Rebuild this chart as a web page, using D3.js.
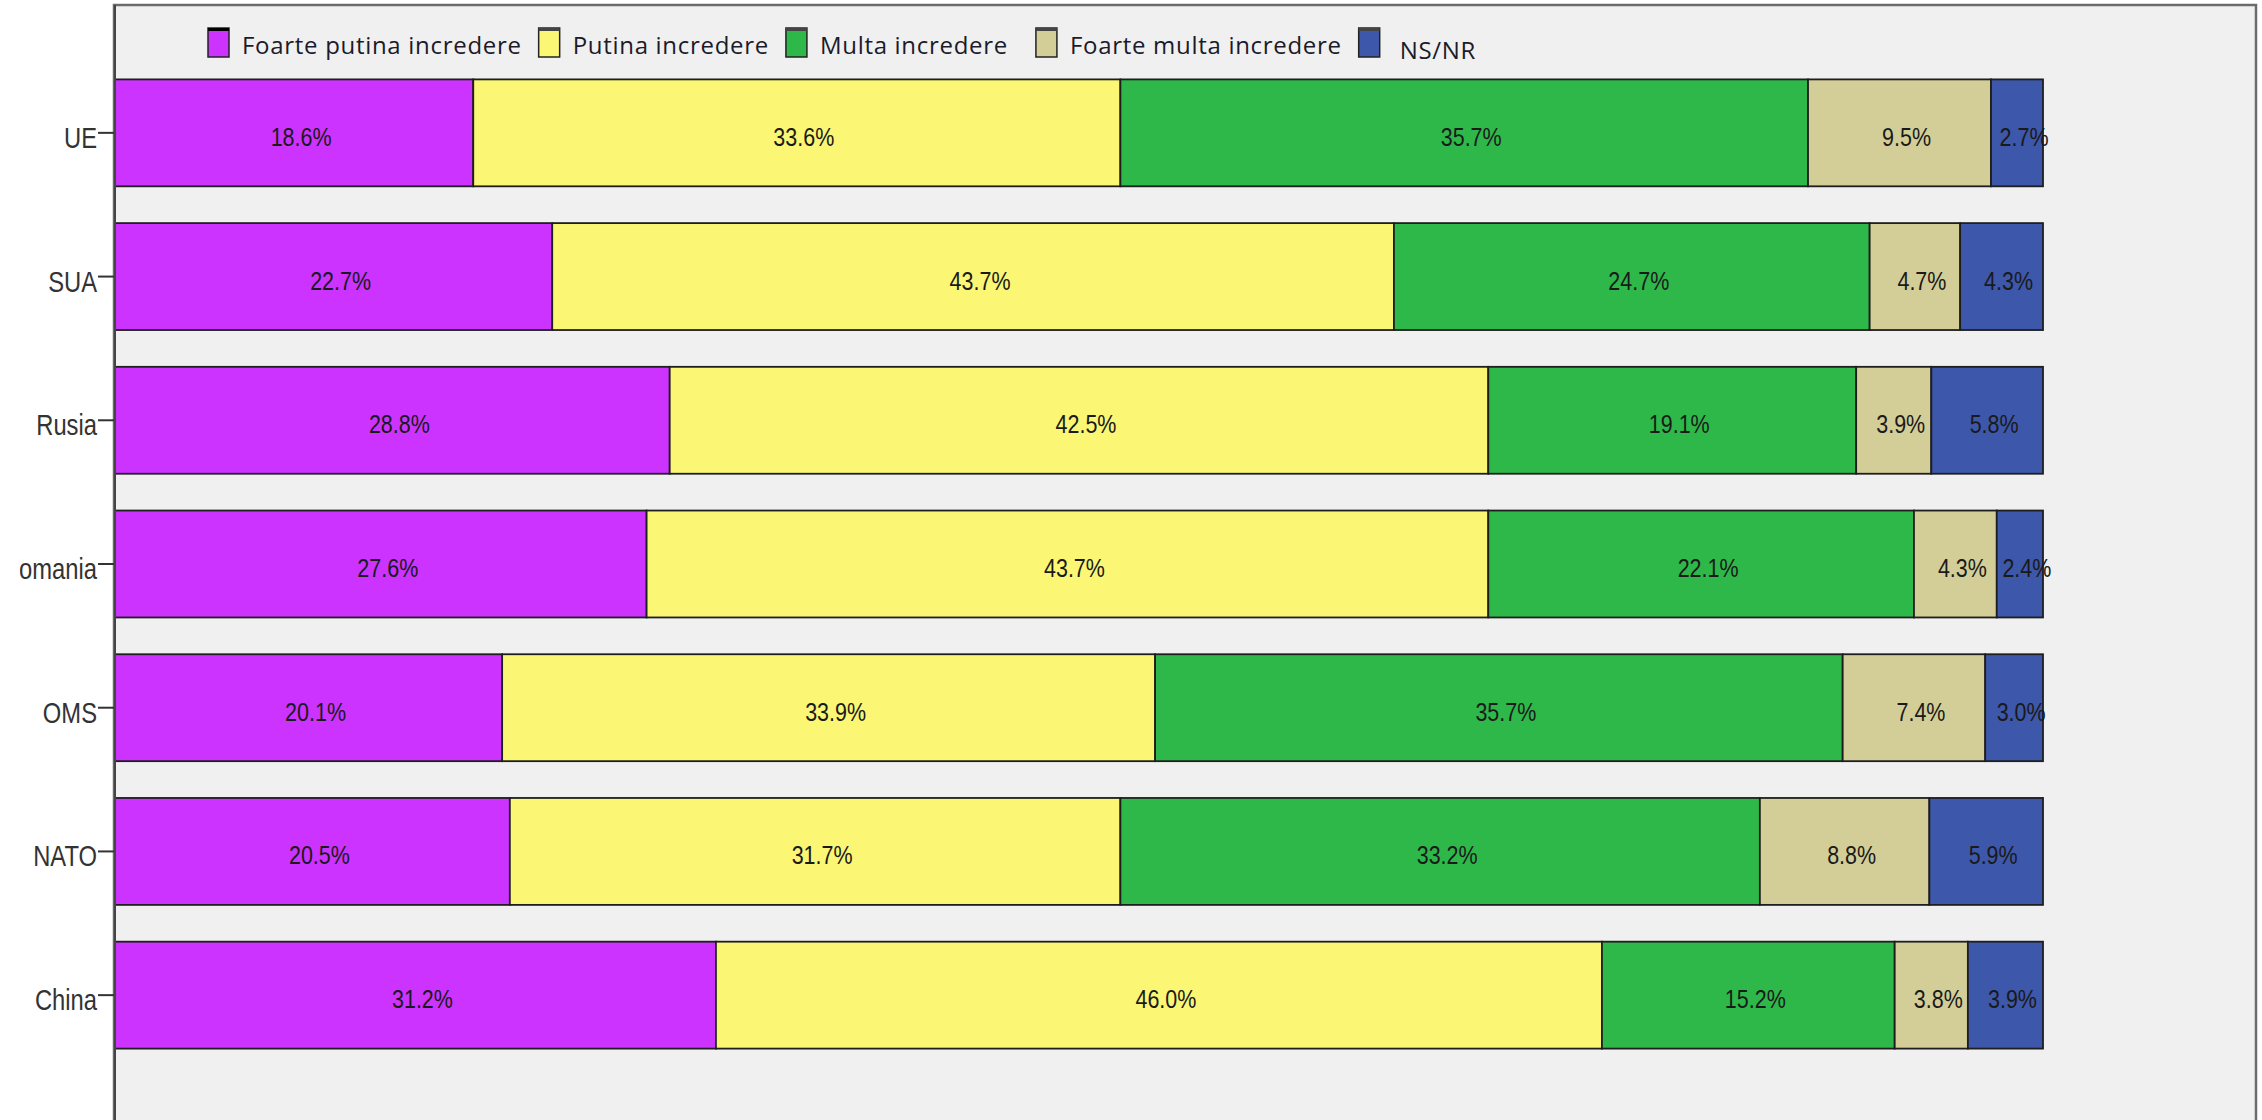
<!DOCTYPE html>
<html>
<head>
<meta charset="utf-8">
<script src="https://cdn.jsdelivr.net/npm/d3@7"></script>
<style>
  body { margin: 0; background: #fff; }
  svg { display: block; }
</style>
</head>
<body>
<svg id="chart" width="2262" height="1120"></svg>
<script>
const categories = ["UE", "SUA", "Rusia", "Romania", "OMS", "NATO", "China"];
const seriesNames = ["Foarte putina incredere", "Putina incredere", "Multa incredere", "Foarte multa incredere", "NS/NR"];
const foartePutina = [18.6, 22.7, 28.8, 27.6, 20.1, 20.5, 31.2];
const putina = [33.6, 43.7, 42.5, 43.7, 33.9, 31.7, 46.0];
const multa = [35.7, 24.7, 19.1, 22.1, 35.7, 33.2, 15.2];
const foarteMulta = [9.5, 4.7, 3.9, 4.3, 7.4, 8.8, 3.8];
const nsnr = [2.7, 4.3, 5.8, 2.4, 3.0, 5.9, 3.9];
const colors = ["#cc33ff", "#fbf775", "#2eb84a", "#d3ce98", "#3d57ab"];

const series = [foartePutina, putina, multa, foarteMulta, nsnr];
const rows = categories.map((c, i) => {
    const r = { cat: c };
    seriesNames.forEach((s, j) => { r[s] = series[j][i]; });
    return r;
});

const svg = d3.select("#chart");

// plot frame
svg.append("rect")
    .attr("x", 114).attr("y", 5)
    .attr("width", 2142).attr("height", 1300)
    .attr("fill", "#f0f0f0")
    .attr("stroke", "#6b6b6b")
    .attr("stroke-width", 2.5);

const total = d3.max(rows, r => d3.sum(seriesNames, s => r[s]));
const x = d3.scaleLinear().domain([0, total]).range([115, 2043]);
const y = d3.scaleBand().domain(categories).range([61, 1067])
    .paddingInner(0.256).paddingOuter(0.128);

const stacked = d3.stack().keys(seriesNames)(rows);

const layers = svg.append("g").selectAll("g")
    .data(stacked)
    .enter().append("g")
    .attr("fill", (d, i) => colors[i]);

layers.selectAll("rect")
    .data(d => d)
    .enter().append("rect")
    .attr("x", d => x(d[0]))
    .attr("y", d => y(d.data.cat))
    .attr("width", d => x(d[1]) - x(d[0]))
    .attr("height", y.bandwidth())
    .attr("stroke", "#1e1e1e")
    .attr("stroke-width", 1.8);

// value labels
layers.selectAll("text")
    .data(d => d.map(v => ({ v, val: v[1] - v[0] })))
    .enter().append("text")
    .attr("transform", d => `translate(${(x(d.v[0]) + x(d.v[1])) / 2 + 7},${y(d.v.data.cat) + y.bandwidth() / 2 + 13}) scale(0.86,1)`)
    .attr("text-anchor", "middle")
    .attr("font-family", "Liberation Sans, Arial, sans-serif")
    .attr("font-size", 25)
    .attr("fill", "#1a1a1a")
    .text(d => d.val.toFixed(1) + "%");

// category axis (left part of the labels is cut off, as in the source image)
svg.append("clipPath").attr("id", "axclip")
    .append("rect").attr("x", 20).attr("y", 0).attr("width", 200).attr("height", 1120);

const axis = svg.append("g")
    .attr("clip-path", "url(#axclip)")
    .append("g")
    .attr("transform", "translate(115,0)")
    .call(d3.axisLeft(y).tickSize(17).tickSizeOuter(0));
axis.select(".domain").remove();
axis.selectAll(".tick line").attr("stroke", "#333").attr("stroke-width", 2);
axis.selectAll(".tick text")
    .attr("x", null).attr("dy", null)
    .attr("transform", "translate(-18,15) scale(0.82,1)")
    .attr("text-anchor", "end")
    .attr("font-family", "Liberation Sans, Arial, sans-serif")
    .attr("font-size", 29)
    .attr("fill", "#333");

// left axis line
svg.append("line")
    .attr("x1", 115).attr("x2", 115).attr("y1", 5).attr("y2", 1120)
    .attr("stroke", "#444").attr("stroke-width", 2);

// legend
const legend = svg.append("g");
let lx = 208;
seriesNames.forEach((s, i) => {
    const g = legend.append("g").attr("transform", `translate(${lx},28)`);
    g.append("rect")
        .attr("width", 21).attr("height", 29)
        .attr("fill", colors[i])
        .attr("stroke", "#222").attr("stroke-width", 1.5);
    g.append("line")
        .attr("x1", 0).attr("x2", 21).attr("y1", 1.5).attr("y2", 1.5)
        .attr("stroke", i === 0 ? "#000" : "#444").attr("stroke-width", 3);
    const tx = i === 4 ? 41 : 34;
    const t = g.append("text")
        .attr("x", tx)
        .attr("y", i === 4 ? 31 : 26)
        .attr("font-family", "Open Sans, sans-serif")
        .attr("font-size", 24)
        .attr("letter-spacing", 0.7)
        .attr("fill", "#1b1b2a")
        .text(s);
    lx += tx + t.node().getComputedTextLength() + (i === 2 ? 28 : 17);
});
</script>
</body>
</html>
